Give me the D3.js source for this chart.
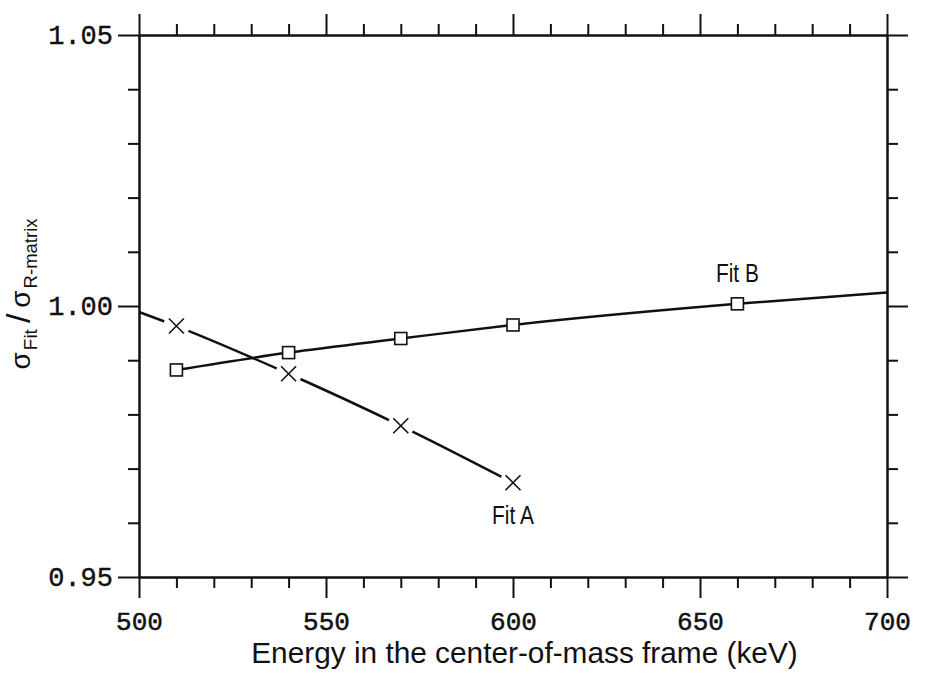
<!DOCTYPE html>
<html>
<head>
<meta charset="utf-8">
<script src="https://cdn.jsdelivr.net/npm/d3@7"></script>
<style>
  html, body { margin: 0; padding: 0; background: #fff; }
  svg { display: block; }
</style>
</head>
<body>
<svg id="chart" width="935" height="675"></svg>
<script>
// ---- data ----
const fitAEnergy = [500, 510, 540, 570, 600];
const fitARatio  = [0.9989, 0.9963, 0.9875, 0.9779, 0.9674];
const fitAMarkerEnergy = [510, 540, 570, 600];
const fitAMarkerRatio  = [0.9963, 0.9875, 0.9779, 0.9674];

const fitBEnergy = [510, 540, 570, 600, 660, 700];
const fitBRatio  = [0.9882, 0.9914, 0.9940, 0.9965, 1.0004, 1.0025];
const fitBMarkerEnergy = [510, 540, 570, 600, 660];
const fitBMarkerRatio  = [0.9882, 0.9914, 0.9940, 0.9965, 1.0004];

const xMajorTicks = [500, 550, 600, 650, 700];
const xMinorTicks = [510, 520, 530, 540, 560, 570, 580, 590, 610, 620, 630, 640, 660, 670, 680, 690];
const yMajorTicks = [0.95, 1.00, 1.05];
const yMinorTicks = [0.96, 0.97, 0.98, 0.99, 1.01, 1.02, 1.03, 1.04];

const xTitle = "Energy in the center-of-mass frame (keV)";

// ---- layout ----
const svg = d3.select("#chart");
const pLeft = 139, pRight = 887, pTop = 35, pBottom = 577;
const x = d3.scaleLinear().domain([500, 700]).range([pLeft, pRight]);
const y = d3.scaleLinear().domain([0.95, 1.05]).range([pBottom, pTop]);

const ink = "#111";
const axisW = 2;
const major = 21, minor = 11;

function styleAxis(g) {
  g.selectAll("path.domain").attr("stroke", ink).attr("stroke-width", axisW);
  g.selectAll(".tick line").attr("stroke", ink).attr("stroke-width", axisW);
}

// bottom axis (ticks outward)
const gB = svg.append("g").attr("transform", `translate(0,${pBottom})`);
gB.call(d3.axisBottom(x).tickValues(xMinorTicks).tickSize(minor).tickSizeOuter(0).tickFormat(""));
const gB2 = svg.append("g").attr("transform", `translate(0,${pBottom})`);
gB2.call(d3.axisBottom(x).tickValues(xMajorTicks).tickSize(major).tickSizeOuter(0).tickPadding(14).tickFormat(d3.format("d")));
// top axis
const gT = svg.append("g").attr("transform", `translate(0,${pTop})`);
gT.call(d3.axisTop(x).tickValues(xMinorTicks).tickSize(minor).tickSizeOuter(0).tickFormat(""));
const gT2 = svg.append("g").attr("transform", `translate(0,${pTop})`);
gT2.call(d3.axisTop(x).tickValues(xMajorTicks).tickSize(major).tickSizeOuter(0).tickFormat(""));
// left axis
const gL = svg.append("g").attr("transform", `translate(${pLeft},0)`);
gL.call(d3.axisLeft(y).tickValues(yMinorTicks).tickSize(minor).tickSizeOuter(0).tickFormat(""));
const gL2 = svg.append("g").attr("transform", `translate(${pLeft},0)`);
gL2.call(d3.axisLeft(y).tickValues(yMajorTicks).tickSize(major).tickSizeOuter(0).tickPadding(5).tickFormat(d3.format(".2f")));
// right axis
const gR = svg.append("g").attr("transform", `translate(${pRight},0)`);
gR.call(d3.axisRight(y).tickValues(yMinorTicks).tickSize(minor).tickSizeOuter(0).tickFormat(""));
const gR2 = svg.append("g").attr("transform", `translate(${pRight},0)`);
gR2.call(d3.axisRight(y).tickValues(yMajorTicks).tickSize(major).tickSizeOuter(0).tickFormat(""));

[gB, gB2, gT, gT2, gL, gL2, gR, gR2].forEach(styleAxis);

gB2.selectAll(".tick text")
  .attr("font-family", "'Liberation Mono', 'DejaVu Sans Mono', monospace")
  .attr("font-size", 26).attr("fill", ink)
  .attr("stroke", ink).attr("stroke-width", 0.5);
gL2.selectAll(".tick text")
  .attr("font-family", "'Liberation Mono', 'DejaVu Sans Mono', monospace")
  .attr("font-size", 27).attr("fill", ink)
  .attr("stroke", ink).attr("stroke-width", 0.4);

// ---- Fit A curve with knocked-out cross markers ----
const fitA = fitAEnergy.map((e, i) => [e, fitARatio[i]]);
const fitB = fitBEnergy.map((e, i) => [e, fitBRatio[i]]);
const line = d3.line().x(d => x(d[0])).y(d => y(d[1])).curve(d3.curveMonotoneX);

svg.append("path").datum(fitA).attr("d", line)
  .attr("fill", "none").attr("stroke", ink).attr("stroke-width", 2.5);

const aMarks = fitAMarkerEnergy.map((e, i) => [e, fitAMarkerRatio[i]]);
svg.selectAll("circle.knock").data(aMarks).enter().append("circle")
  .attr("cx", d => x(d[0])).attr("cy", d => y(d[1])).attr("r", 13).attr("fill", "#fff");
const cs = 7.5;
svg.selectAll("path.cross").data(aMarks).enter().append("path")
  .attr("d", d => {
    const px = x(d[0]), py = y(d[1]);
    return `M${px - cs},${py - cs}L${px + cs},${py + cs}M${px - cs},${py + cs}L${px + cs},${py - cs}`;
  })
  .attr("stroke", ink).attr("stroke-width", 1.6).attr("fill", "none");

// ---- Fit B curve with square markers ----
svg.append("path").datum(fitB).attr("d", line)
  .attr("fill", "none").attr("stroke", ink).attr("stroke-width", 2.5);
const bMarks = fitBMarkerEnergy.map((e, i) => [e, fitBMarkerRatio[i]]);
const sq = 12;
svg.selectAll("rect.sq").data(bMarks).enter().append("rect")
  .attr("x", d => x(d[0]) - sq / 2).attr("y", d => y(d[1]) - sq / 2)
  .attr("width", sq).attr("height", sq)
  .attr("fill", "#fff").attr("stroke", ink).attr("stroke-width", 1.6);

// ---- labels (condensed sans) ----
const labelFont = "'Liberation Sans', Arial, sans-serif";
function narrowLabel(txt, px, py) {
  svg.append("g").attr("transform", `translate(${px},${py}) scale(0.82,1)`)
    .append("text").text(txt)
    .attr("text-anchor", "middle").attr("font-family", labelFont)
    .attr("font-size", 25.5).attr("fill", ink);
}
narrowLabel("Fit B", x(fitBMarkerEnergy[4]), y(fitBMarkerRatio[4]) - 22);
narrowLabel("Fit A", x(fitAMarkerEnergy[3]), y(fitAMarkerRatio[3]) + 41);

// x title
svg.append("text").text(xTitle)
  .attr("x", 524.5).attr("y", 663).attr("text-anchor", "middle")
  .attr("font-family", "'Liberation Sans', Arial, sans-serif").attr("font-size", 29.8).attr("fill", ink);

// y title
const yt = svg.append("text")
  .attr("transform", "translate(30,294) rotate(-90)")
  .attr("text-anchor", "middle")
  .attr("font-family", "'Liberation Sans', Arial, sans-serif").attr("font-size", 28).attr("fill", ink);
yt.append("tspan").text("σ");
yt.append("tspan").text("Fit").attr("font-size", 19).attr("dy", 7).attr("dx", 2);
yt.append("tspan").text("/").attr("dy", -7).attr("dx", 6).attr("font-size", 34);
yt.append("tspan").text("σ").attr("dx", 6);
yt.append("tspan").text("R-matrix").attr("font-size", 18.5).attr("dy", 7).attr("dx", 2);
</script>
</body>
</html>
